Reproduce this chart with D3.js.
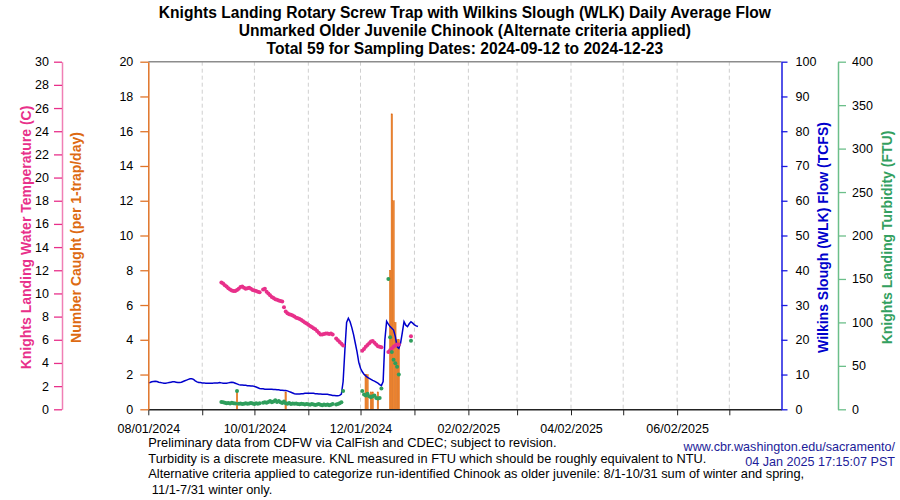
<!DOCTYPE html>
<html>
<head>
<meta charset="utf-8">
<script src="https://cdn.jsdelivr.net/npm/d3@7"></script>
<style>
  body { margin: 0; background: #fff; }
  svg { font-family: "Liberation Sans", Arial, Helvetica, sans-serif; }
</style>
</head>
<body>
<div id="chart"></div>
<script>
// ---- data ----
const titleLines = [
  'Knights Landing Rotary Screw Trap with Wilkins Slough (WLK) Daily Average Flow',
  'Unmarked Older Juvenile Chinook (Alternate criteria applied)',
  'Total 59 for Sampling Dates: 2024-09-12 to 2024-12-23'
];

const xTickLabels = ['08/01/2024', '', '10/01/2024', '', '12/01/2024', '', '02/02/2025', '', '04/02/2025', '', '06/02/2025', ''];
const catchTicks = [0, 2, 4, 6, 8, 10, 12, 14, 16, 18, 20];
const tempTicks = [0, 2, 4, 6, 8, 10, 12, 14, 16, 18, 20, 22, 24, 26, 28, 30];
const flowTicks = [0, 10, 20, 30, 40, 50, 60, 70, 80, 90, 100];
const turbTicks = [0, 50, 100, 150, 200, 250, 300, 350, 400];

// daily fish caught (per 1-trap/day)
const catchDates = ['2024-09-21', '2024-10-19', '2024-12-04', '2024-12-05', '2024-12-07', '2024-12-08',
  '2024-12-11', '2024-12-18', '2024-12-19', '2024-12-20', '2024-12-21', '2024-12-22', '2024-12-23'];
const catchCounts = [1, 1, 2, 2, 1, 1, 1, 8, 17, 12, 5, 4, 4];

// daily water temperature (C) and turbidity (FTU), starting 2024-09-12, null = no reading
const sampleStart = '2024-09-12';
const tempC = [
  10.95, 10.85, 10.7, 10.6, 10.45, 10.35, 10.25, 10.2, 10.2, 10.3, 10.4, 10.55, 10.6, 10.5, 10.4, 10.45,
  10.5, 10.4, 10.3, 10.25, 10.2, 10.15, 10.1,
  null,
  10.35, 10.4, 10.15, 10.0, 9.85, 9.7, 9.6, 9.5, 9.45, 9.4, 9.35, 9.3,
  8.8, 8.45, 8.3, 8.2, 8.15, 8.1, 8.0, 7.9, 7.85, 7.8, 7.7, 7.6, 7.5, 7.4, 7.3, 7.2, 7.1, 7.0, 6.9, 6.75,
  6.6, 6.45, 6.45, 6.5, 6.55, 6.55, 6.5, 6.55, 6.45,
  null,
  6.1, 5.95, 5.8, 5.65, 5.5,
  null, null, null, null, null, null, null, null, null, null,
  5.05, 5.2, 5.4, 5.55, 5.7, 5.85, 5.9, 5.75, 5.6, 5.45, 5.4, 5.35,
  null, null, null,
  4.95, 5.1, 5.25, 5.4, 5.5, 5.6, 5.6,
  null, null, null, null, null, null,
  6.3
];
const turbFTU = [
  8.5, 8.0, 7.6, 7.0, 7.2, 6.8, 7.4, 7.0, 6.6,
  21,
  6.5, 6.8, 6.2, 6.5, 7.0, 6.4, 6.8, 7.3, 6.6, 6.2, 6.9, 6.5, 7.1,
  null,
  7.6, 8.0, 7.5, 8.4, 9.5, 8.0, 9.0, 10.5, 8.5, 9.5, 8.0, 7.2, 9.0,
  7.0, 6.5, 7.2, 6.0, 6.6, 6.3, 6.8, 6.0, 5.8, 6.4, 6.0, 5.5, 6.2, 5.8, 5.2, 6.0, 5.6, 5.0, 5.4, 6.0,
  5.2, 4.8, 5.6, 5.0, 5.5, 4.6, 5.2, 6.0,
  null,
  5.4, 6.2, 7.0, 8.0,
  21,
  null, null, null, null, null, null, null, null, null, null,
  21, 17, 16, 18, 15, 14, 15, 16, 13, 12.5, 13, 24,
  null, null, null,
  150, 83, 66, 57, 53, 49, 40,
  null, null, null, null, null, null,
  79
];

// Wilkins Slough daily average flow (TCFS), starting 2024-08-01
const flowStart = '2024-08-01';
const flowTCFS = [
  7.6, 7.7, 7.9, 8.0, 8.1, 8.0, 7.8, 7.7, 7.6, 7.5, 7.5, 7.6, 7.7, 7.8, 7.9, 7.9, 7.8, 7.7, 7.7, 7.8,
  8.0, 8.2, 8.4, 8.6, 8.8, 8.8, 8.6, 8.2, 7.9, 7.7, 7.7,
  7.6, 7.6, 7.5, 7.5, 7.5, 7.5, 7.5, 7.6, 7.6, 7.6, 7.7, 7.6, 7.5, 7.5, 7.5, 7.6, 7.7, 7.8, 7.7, 7.5,
  7.3, 7.1, 7.0,
  7.0, 6.9, 6.9, 6.8, 6.8, 6.7, 6.7, 6.6, 6.4, 6.2, 6.0, 5.9, 5.9, 5.8, 5.8, 5.8, 5.8,
  5.75, 5.7, 5.7, 5.6, 5.6, 5.5, 5.5, 5.4, 5.4, 5.3, 5.1, 4.9, 4.7, 4.5, 4.4,
  4.4, 4.4, 4.5, 4.5, 4.6, 4.6, 4.6, 4.6, 4.6, 4.6, 4.5, 4.5, 4.4, 4.4, 4.3, 4.3, 4.3, 4.3, 4.2, 4.1,
  4.0, 4.0, 3.9, 3.9, 4.0,
  4.4, 8.0, 17, 25, 26.2, 25.2, 23.5, 21.5, 19, 16.5, 13.5, 11.8, 10.8, 10.1, 9.6, 9.2, 8.9, 8.6, 8.3,
  8.1, 7.8, 7.5, 7.1, 6.8, 8.0, 20, 25.3, 24.5, 23.8, 23.3, 22.8, 21, 18, 17.5, 19, 22, 25.2, 24.2,
  23.8, 24.6, 25.2, 24.8, 24.3, 24.0, 23.8
];

const footLines = [
  'Preliminary data from CDFW via CalFish and CDEC; subject to revision.',
  'Turbidity is a discrete measure. KNL measured in FTU which should be roughly equivalent to NTU.',
  'Alternative criteria applied to categorize run-identified Chinook as older juvenile: 8/1-10/31 sum of winter and spring,',
  ' 11/1-7/31 winter only.'
];
const creditLines = ['www.cbr.washington.edu/sacramento/', '04 Jan 2025 17:15:07 PST'];

// ---- drawing ----
const width = 900;
const height = 500;
const plot = { left: 148.3, right: 781.5, top: 61.7, bottom: 409.3 };

const colors = {
  temp: '#e8308a', tempAxis: '#f07fb5',
  catch: '#ee8530', catchEdge: '#d8650f', catchAxis: '#e07428', catchLabel: '#dd6a12',
  flow: '#0000cc', flowAxis: '#1a1ae0',
  turb: '#2f9e5c', turbAxis: '#6cbf8a', turbLabel: '#33a060'
};

const parse = d3.utcParse('%Y-%m-%d');
const day = (start, i) => d3.utcDay.offset(parse(start), i);

const svg = d3.select('#chart').append('svg')
  .attr('width', width)
  .attr('height', height);

const x = d3.scaleUtc()
  .domain([parse('2024-08-01'), parse('2025-07-31')])
  .range([plot.left, plot.right]);

const yCatch = d3.scaleLinear().domain([0, 20]).range([plot.bottom, plot.top]);
const yTemp = d3.scaleLinear().domain([0, 30]).range([plot.bottom, plot.top]);
const yFlow = d3.scaleLinear().domain([0, 100]).range([plot.bottom, plot.top]);
const yTurb = d3.scaleLinear().domain([0, 400]).range([plot.bottom, plot.top]);

const monthTicks = d3.utcMonth.range(parse('2024-08-01'), parse('2025-07-31'));

// title
svg.append('g').selectAll('text')
  .data(titleLines)
  .enter().append('text')
  .attr('x', (plot.left + plot.right) / 2)
  .attr('y', (d, i) => 18 + i * 18)
  .attr('text-anchor', 'middle')
  .attr('font-size', '15.6px')
  .attr('font-weight', 'bold')
  .text(d => d);

// dashed month grid lines
svg.append('g').selectAll('line')
  .data(monthTicks.slice(1))
  .enter().append('line')
  .attr('x1', d => x(d)).attr('x2', d => x(d))
  .attr('y1', plot.top).attr('y2', plot.bottom)
  .attr('stroke', '#cfcfcf')
  .attr('stroke-dasharray', '4,3');

// top frame line
svg.append('line')
  .attr('x1', plot.left).attr('x2', plot.right)
  .attr('y1', plot.top).attr('y2', plot.top)
  .attr('stroke', '#8c8c8c')
  .attr('stroke-width', 1.5);

// catch bars
const barW = (x(parse('2024-12-02')) - x(parse('2024-12-01'))) * 0.9;
svg.append('g').selectAll('rect')
  .data(catchDates.map((d, i) => ({ date: parse(d), n: catchCounts[i] })))
  .enter().append('rect')
  .attr('x', d => x(d.date) - barW / 2)
  .attr('y', d => yCatch(d.n))
  .attr('width', barW)
  .attr('height', d => yCatch(0) - yCatch(d.n))
  .attr('fill', colors.catch)
  .attr('stroke', colors.catchEdge)
  .attr('stroke-width', 0.4);

// flow line
const flowData = flowTCFS.map((v, i) => ({ date: day(flowStart, i), v: v }));
svg.append('path')
  .datum(flowData)
  .attr('fill', 'none')
  .attr('stroke', colors.flow)
  .attr('stroke-width', 1.5)
  .attr('d', d3.line().x(d => x(d.date)).y(d => yFlow(d.v)));

// temperature dots
svg.append('g').selectAll('circle')
  .data(tempC.map((v, i) => ({ date: day(sampleStart, i), v: v })).filter(d => d.v !== null))
  .enter().append('circle')
  .attr('cx', d => x(d.date))
  .attr('cy', d => yTemp(d.v))
  .attr('r', 2)
  .attr('fill', colors.temp);

// turbidity dots
svg.append('g').selectAll('circle')
  .data(turbFTU.map((v, i) => ({ date: day(sampleStart, i), v: v })).filter(d => d.v !== null))
  .enter().append('circle')
  .attr('cx', d => x(d.date))
  .attr('cy', d => yTurb(d.v))
  .attr('r', 2)
  .attr('fill', colors.turb);

// x axis
const xAxis = svg.append('g')
  .attr('transform', `translate(0,${plot.bottom})`)
  .call(d3.axisBottom(x).tickValues(monthTicks).tickSize(6).tickSizeOuter(0)
    .tickFormat((d, i) => xTickLabels[i]));
xAxis.attr('font-family', null);
xAxis.select('.domain').attr('stroke', '#222').attr('stroke-width', 1.5);
xAxis.selectAll('.tick line').attr('stroke', '#222');
xAxis.selectAll('.tick text').attr('font-size', '12.5px').attr('dy', '1.2em').attr('fill', '#000');

// helper for the four value axes
function valueAxis(axis, xPos, lineColor, tickColor) {
  const g = svg.append('g')
    .attr('transform', `translate(${xPos},0)`)
    .call(axis);
  g.attr('font-family', null);
  g.select('.domain').attr('stroke', lineColor).attr('stroke-width', 1.5);
  g.selectAll('.tick line').attr('stroke', tickColor).attr('stroke-width', 1.3);
  g.selectAll('.tick text').attr('font-size', '12.5px').attr('fill', '#000');
  return g;
}

valueAxis(d3.axisLeft(yTemp).tickValues(tempTicks).tickSize(8).tickSizeOuter(0).tickPadding(5),
  62, colors.tempAxis, colors.temp);
valueAxis(d3.axisLeft(yCatch).tickValues(catchTicks).tickSize(8).tickSizeOuter(0).tickPadding(7),
  plot.left, colors.catchAxis, colors.catchAxis);
valueAxis(d3.axisRight(yFlow).tickValues(flowTicks).tickSize(6).tickSizeOuter(0).tickPadding(8),
  plot.right, colors.flowAxis, colors.flowAxis);
valueAxis(d3.axisRight(yTurb).tickValues(turbTicks).tickSize(8).tickSizeOuter(0).tickPadding(6),
  838, colors.turbAxis, colors.turbAxis);

// axis titles (rotated)
const midY = (plot.top + plot.bottom) / 2 + 2;
const axisTitles = [
  { text: 'Knights Landing Water Temperature (C)', x: 31, color: colors.temp },
  { text: 'Number Caught (per 1-trap/day)', x: 81, color: colors.catchLabel },
  { text: 'Wilkins Slough (WLK) Flow (TCFS)', x: 828, color: colors.flow },
  { text: 'Knights Landing Turbidity (FTU)', x: 892, color: colors.turbLabel }
];
svg.append('g').selectAll('text')
  .data(axisTitles)
  .enter().append('text')
  .attr('transform', d => `translate(${d.x},${midY}) rotate(-90)`)
  .attr('text-anchor', 'middle')
  .attr('font-size', '14px')
  .attr('font-weight', 'bold')
  .attr('fill', d => d.color)
  .text(d => d.text);

// footnotes
svg.append('g').selectAll('text')
  .data(footLines)
  .enter().append('text')
  .attr('x', plot.left)
  .attr('y', (d, i) => 447 + i * 15.5)
  .attr('font-size', '12.8px')
  .style('white-space', 'pre')
  .text(d => d);

svg.append('g').selectAll('text')
  .data(creditLines)
  .enter().append('text')
  .attr('x', 895)
  .attr('y', (d, i) => 451 + i * 14.5)
  .attr('text-anchor', 'end')
  .attr('font-size', '12.6px')
  .attr('fill', '#1c1c99')
  .text(d => d);
</script>
</body>
</html>
